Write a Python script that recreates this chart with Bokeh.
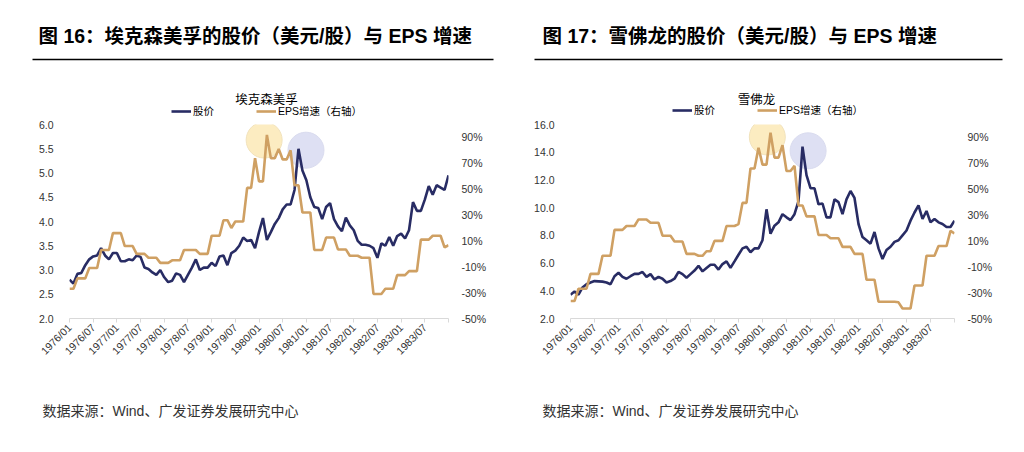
from math import pi

import numpy as np
from bokeh.embed import file_html
from bokeh.layouts import column, row
from bokeh.models import (FixedTicker, Label, Legend, LegendItem, LinearAxis,
                          PrintfTickFormatter, Range1d)
from bokeh.plotting import figure
from bokeh.resources import INLINE

# monthly points, 1976/01 .. 1984/01
tick_labels = ["1976/01", "1976/07", "1977/01", "1977/07", "1978/01", "1978/07",
               "1979/01", "1979/07", "1980/01", "1980/07", "1981/01", "1981/07",
               "1982/01", "1982/07", "1983/01", "1983/07", ""]
eps_ticks = [-50, -30, -10, 10, 30, 50, 70, 90]

# Exxon Mobil
xom_price = [2.80, 2.72, 2.92, 2.94, 3.10, 3.22, 3.28, 3.30, 3.45, 3.30,
             3.22, 3.35, 3.35, 3.18, 3.18, 3.22, 3.20, 3.30, 3.27, 3.05,
             3.02, 2.95, 2.90, 3.00, 2.85, 2.75, 2.78, 2.93, 2.90, 2.75,
             2.90, 3.05, 3.22, 3.00, 3.05, 3.05, 3.15, 3.08, 3.28, 3.30,
             3.10, 3.35, 3.40, 3.50, 3.67, 3.60, 3.62, 3.45, 3.78, 4.07,
             3.62, 3.78, 3.95, 4.07, 4.25, 4.35, 4.35, 4.65, 5.50, 5.05,
             4.85, 4.50, 4.30, 4.28, 4.05, 4.30, 4.38, 4.05, 3.90, 3.80,
             4.08, 3.92, 3.82, 3.60, 3.52, 3.52, 3.50, 3.45, 3.25, 3.55,
             3.50, 3.68, 3.50, 3.70, 3.75, 3.65, 3.82, 4.40, 4.22, 4.22,
             4.45, 4.73, 4.55, 4.75, 4.70, 4.65, 4.95]
xom_eps = [-27, -27, -19, -19, -19, -11, -11, -11, 3, 3,
           3, 16, 16, 16, 6, 6, 6, 0, 0, 0,
           -3, -3, -3, -7, -7, -7, -5, -5, -5, 3,
           3, 3, 3, 0, 0, 0, 14, 14, 14, 26,
           26, 20, 25, 25, 25, 51, 51, 74, 56, 56,
           92, 74, 74, 81, 73, 73, 80, 53, 53, 32,
           32, 32, 3, 3, 3, 12.6, 12.6, 12.6, 3.4, 3.4,
           3.4, -1.5, -1.5, -1.5, -3, -3, -3, -31, -31, -31,
           -27, -27, -27, -16.5, -16.5, -16.5, -13.4, -13.4, -13.4, 11,
           11, 11, 14, 14, 14, 5, 6.7]
xom_ticks = [2.0, 2.5, 3.0, 3.5, 4.0, 4.5, 5.0, 5.5, 6.0]
xom_hl_x = [49.3, 59.9]
xom_hl_y = [5.68, 5.47]

# Chevron
cvx_price = [3.72, 3.95, 3.72, 4.24, 4.47, 4.60, 4.70, 4.68, 4.66, 4.60,
             4.47, 5.05, 5.30, 5.00, 4.87, 5.05, 5.22, 5.22, 5.36, 5.00,
             5.20, 4.82, 5.00, 4.87, 4.60, 4.70, 4.87, 5.36, 5.20, 4.94,
             5.20, 5.46, 5.80, 5.40, 5.65, 5.88, 5.88, 5.53, 5.93, 6.12,
             5.65, 6.12, 6.60, 7.06, 7.18, 6.78, 7.06, 7.06, 7.65, 9.88,
             8.12, 8.70, 8.94, 9.53, 9.30, 9.10, 9.53, 10.47, 14.40, 12.35,
             11.40, 11.40, 10.24, 10.30, 9.30, 9.30, 10.60, 10.40, 9.53, 10.60,
             11.20, 10.70, 8.82, 7.88, 7.65, 7.40, 8.24, 7.06, 6.30, 6.94,
             7.18, 7.53, 7.65, 8.00, 8.35, 9.06, 9.65, 10.16, 9.18, 9.76,
             8.94, 9.18, 8.94, 8.82, 8.60, 8.60, 9.06]
cvx_eps = [-36.5, -36.5, -27, -27, -27, -15.5, -15.5, -15.5, -1.5, -1.5,
           -1.5, 18.5, 18.5, 18.5, 21.5, 21.5, 21.5, 26.6, 26.6, 26.6,
           24, 24, 24, 14, 14, 14, 9.5, 9.5, 9.5, 0,
           0, 0, -1.5, -1.5, 2, 2, 10, 10, 10, 21.5,
           21.5, 21.5, 23, 39.4, 39.4, 66, 66, 82, 69, 69,
           93.6, 74.4, 74.4, 84, 64, 64, 68, 37.4, 37.4, 29,
           29, 29, 14.6, 14.6, 14.6, 12, 12, 12, 5.4, 5.4,
           5.4, 0, 0, 0, -20, -20, -20, -37, -37, -37,
           -37, -37, -37.5, -42.3, -42.3, -42.3, -24.5, -24.5, -24.5, -1.5,
           -1.5, -1.5, 6, 6, 6, 17.7, 15.7]
cvx_ticks = [2.0, 4.0, 6.0, 8.0, 10.0, 12.0, 14.0, 16.0]
cvx_hl_x = [49.2, 59.4]
cvx_hl_y = [15.1, 14.1]

FONT = "Liberation Sans, Noto Sans CJK SC"
NAVY = "#282C64"
GOLD = "#CFA063"
TICK = "#333333"
HEAD_H = 118
FOOT_H = 64
MAIN_H = 452 - HEAD_H - FOOT_H


def blank(height):
    # a figure used only as a drawing surface, y grows downwards in px
    f = figure(width=512, height=height, title=None,
               x_range=Range1d(0, 512), y_range=Range1d(height, 0),
               x_axis_location=None, y_axis_location=None,
               output_backend="svg", toolbar_location=None, min_border=0)
    f.grid.visible = False
    f.outline_line_color = None
    return f


def header(text, text_x, rule_x, name, name_x, leg_x, leg_y):
    h = blank(HEAD_H)
    h.add_layout(Label(x=text_x, y=35, text=text, text_font=FONT,
                       text_font_size="19.5px", text_font_style="bold",
                       text_color="#000000", text_baseline="middle"))
    h.segment(x0=[rule_x[0]], y0=[59], x1=[rule_x[1]], y1=[59],
              line_color="#000000", line_width=1.3)
    h.add_layout(Label(x=name_x, y=99, text=name, text_font=FONT,
                       text_font_size="12.5px", text_color="#000000",
                       text_align="center", text_baseline="middle"))
    # legend swatches take the style of the two series (nothing is plotted)
    s1 = h.line(x=[np.nan], y=[np.nan], color=NAVY, line_width=2.6)
    s2 = h.line(x=[np.nan], y=[np.nan], color=GOLD, line_width=2.6)
    legend = Legend(items=[LegendItem(label="股价", renderers=[s1]),
                           LegendItem(label="EPS增速（右轴）", renderers=[s2])],
                    orientation="horizontal", location=(leg_x, leg_y),
                    glyph_width=20, glyph_height=10, label_height=10,
                    label_standoff=2, spacing=42, padding=0, margin=0,
                    border_line_color=None, background_fill_alpha=0,
                    label_text_font=FONT, label_text_font_size="10.5px",
                    label_text_color="#000000")
    h.add_layout(legend)
    return h


def footer(text_x):
    f = blank(FOOT_H)
    f.add_layout(Label(x=text_x, y=22, text="数据来源：Wind、广发证券发展研究中心",
                       text_font=FONT, text_font_size="14px",
                       text_color="#333333", text_baseline="middle"))
    return f


def make_panel(borders, price, eps, ticks, hl_x, hl_y):
    bl, br, bt, bb = borders
    x = np.arange(len(price))
    p = figure(width=512, height=MAIN_H, title=None, x_range=Range1d(0, 96),
               y_range=Range1d(ticks[0], ticks[-1]),
               output_backend="svg", toolbar_location=None,
               min_border_left=bl, min_border_right=br,
               min_border_top=bt, min_border_bottom=bb)
    p.extra_y_ranges = {"eps": Range1d(-50, 100)}
    p.outline_line_color = None
    p.xgrid.visible = False
    p.ygrid.visible = False

    p.xaxis.ticker = FixedTicker(ticks=list(range(0, 97, 6)))
    p.xaxis.major_label_overrides = {i * 6: lab for i, lab in enumerate(tick_labels)}
    p.xaxis.major_label_orientation = pi / 4
    p.xaxis.axis_line_color = "#D9D9D9"
    p.xaxis.major_tick_line_color = "#D9D9D9"
    p.xaxis.major_tick_in = 0
    p.xaxis.major_tick_out = 4
    p.xaxis.minor_tick_line_color = None
    p.xaxis.major_label_standoff = 3

    p.yaxis.ticker = FixedTicker(ticks=ticks)
    p.yaxis.formatter = PrintfTickFormatter(format="%.1f")
    p.yaxis.major_label_standoff = 10
    right = LinearAxis(y_range_name="eps", ticker=FixedTicker(ticks=eps_ticks),
                       formatter=PrintfTickFormatter(format="%d%%"),
                       major_label_standoff=7)
    p.add_layout(right, "right")
    for ax in (p.yaxis[0], right):
        ax.axis_line_color = None
        ax.major_tick_line_color = None
        ax.minor_tick_line_color = None
    for ax in (p.xaxis[0], p.yaxis[0], right):
        ax.major_label_text_font = FONT
        ax.major_label_text_font_size = "10.5px"
        ax.major_label_text_color = TICK

    p.scatter(hl_x, hl_y, marker="circle", size=36,
              fill_color=["#FBE6AC", "#D3D6EF"], fill_alpha=0.75,
              line_color=["#F1E2BC", "#DADCEF"], line_width=1)
    p.line(x, price, color=NAVY, line_width=2.6)
    p.line(x, eps, y_range_name="eps", color=GOLD, line_width=2.6)
    return p


left = make_panel((69, 64, 6, MAIN_H - 6 - 194), xom_price, xom_eps, xom_ticks,
                  xom_hl_x, xom_hl_y)
right = make_panel((58, 70, 4, MAIN_H - 4 - 198), cvx_price, cvx_eps, cvx_ticks,
                   cvx_hl_x, cvx_hl_y)

layout = column(
    row(header("图 16：埃克森美孚的股价（美元/股）与 EPS 增速", 38, (32, 493),
               "埃克森美孚", 266, 171, 0),
        header("图 17：雪佛龙的股价（美元/股）与 EPS 增速", 30, (22, 490),
               "雪佛龙", 244, 160, 1)),
    row(left, right),
    row(footer(42), footer(30)),
)
open("out.html", "w").write(file_html(layout, INLINE))
